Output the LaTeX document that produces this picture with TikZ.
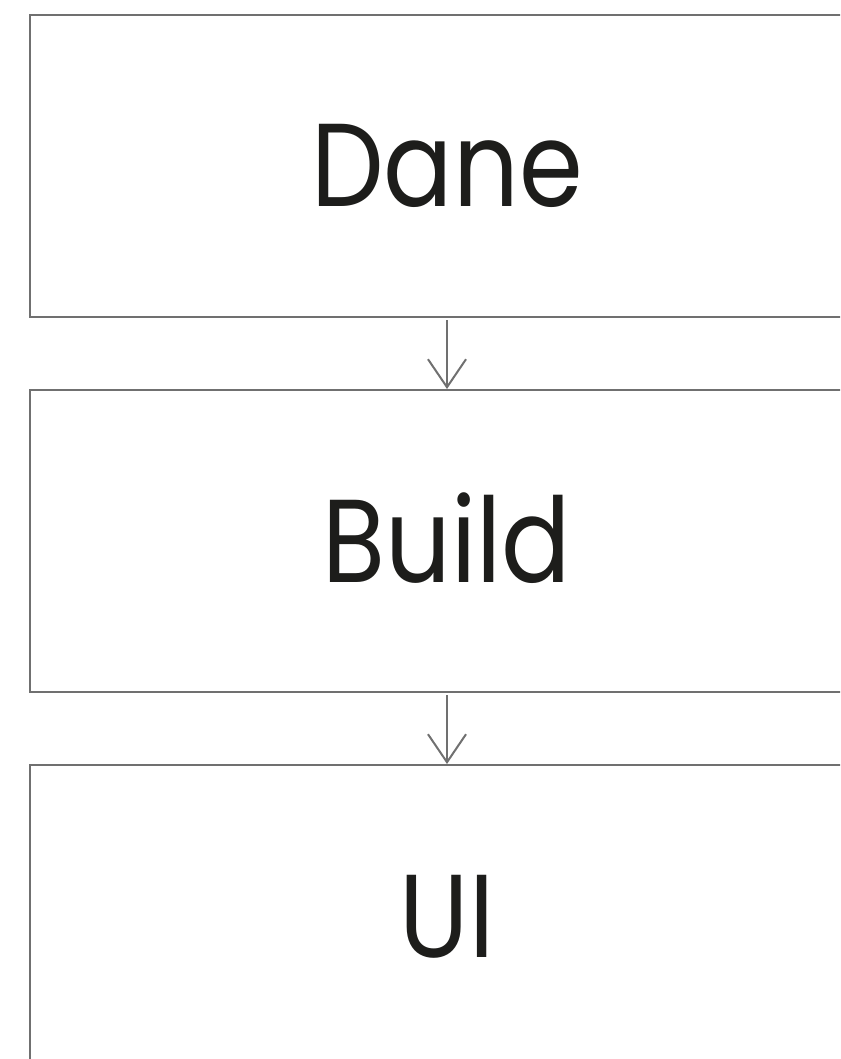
\documentclass[tikz,border=0pt]{standalone}
\usepackage{fontspec}
\setmainfont{Poppins}
\newfontfamily\labelfont[FakeStretch=0.87]{Poppins}
\usetikzlibrary{arrows.meta}
\definecolor{linegray}{HTML}{707070}
\definecolor{inkblack}{HTML}{1D1D1B}
\begin{document}
\begin{tikzpicture}[x=1pt,y=-1pt,
  boxstyle/.style={draw=linegray, line width=2pt, minimum width=834pt, minimum height=302pt, inner sep=0pt},
  labelstyle/.style={font=\labelfont\fontsize{118}{130}\selectfont, text=inkblack, anchor=base, inner sep=0pt},
  flow/.style={draw=linegray, line width=2pt, -{Straight Barb[length=28pt,width=38pt]}}]
\useasboundingbox (0,0) rectangle (840,1059);
\clip (0,0) rectangle (840,1059);
\node[boxstyle] (box1) at (447,166) {};
\node[boxstyle] (box2) at (447,541) {};
\node[boxstyle] (box3) at (447,916) {};
\node[labelstyle] (t1) at ([yshift=-41pt]box1.center) {Dane};
\node[labelstyle] (t2) at ([yshift=-41pt]box2.center) {Build};
\node[labelstyle] (t3) at ([yshift=-41pt]box3.center) {UI};
\draw[flow] ([yshift=-2pt]box1.south) -- (box2.north);
\draw[flow] ([yshift=-2pt]box2.south) -- (box3.north);
\end{tikzpicture}
\end{document}
